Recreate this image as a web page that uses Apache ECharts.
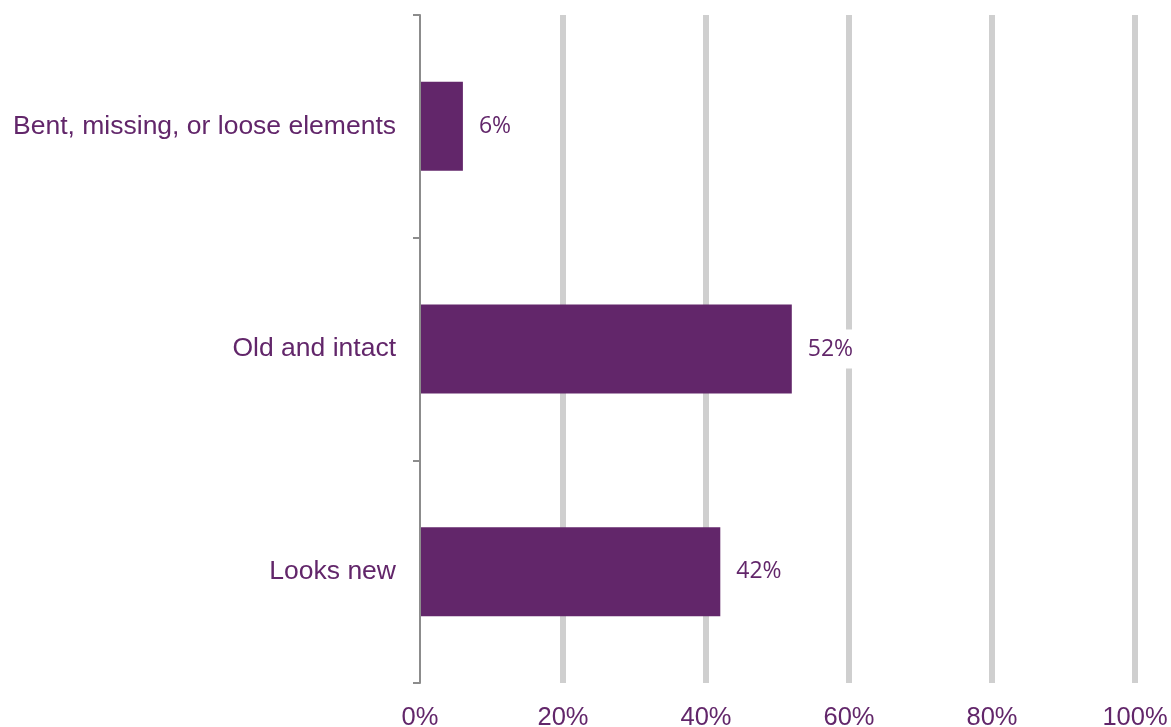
<!DOCTYPE html>
<html>
<head>
<meta charset="utf-8">
<style>
  html, body { margin: 0; padding: 0; background: #ffffff; }
  #chart { width: 1171px; height: 727px; }
</style>
<script src="https://cdn.jsdelivr.net/npm/echarts@6/dist/echarts.min.js"></script>
</head>
<body>
<div id="chart"></div>
<script>
// Condition categories, listed top to bottom
const categories = ['Bent, missing, or loose elements', 'Old and intact', 'Looks new'];
// Share of responses (%)
const shares = [6, 52, 42];
// Horizontal axis ticks (%)
const xTicks = [0, 20, 40, 60, 80, 100];

const purple = '#62266a';

const chart = echarts.init(document.getElementById('chart'));
chart.setOption({
  animation: false,
  backgroundColor: '#ffffff',
  grid: {
    left: 420, right: 36, top: 15, bottom: 44,
    containLabel: false,
    outerBoundsMode: 'none'
  },
  xAxis: {
    type: 'value',
    min: xTicks[0],
    max: xTicks[xTicks.length - 1],
    interval: xTicks[1] - xTicks[0],
    axisLine: { show: false },
    axisTick: { show: false },
    axisLabel: {
      color: purple,
      fontFamily: 'Liberation Sans, Arial, sans-serif',
      fontSize: 25.5,
      margin: 22,
      formatter: v => v + '%'
    },
    splitLine: {
      show: true,
      showMinLine: false,
      lineStyle: { color: '#cfcfcf', width: 6 }
    }
  },
  yAxis: {
    type: 'category',
    inverse: true,
    data: categories,
    axisLine: { show: true, lineStyle: { color: '#8c8c8c', width: 2 } },
    axisTick: { show: true, length: 7, lineStyle: { color: '#8c8c8c', width: 2 } },
    axisLabel: {
      color: purple,
      fontFamily: 'Liberation Sans, Arial, sans-serif',
      fontSize: 26.5,
      margin: 24
    },
    z: 5
  },
  series: [{
    type: 'bar',
    data: shares,
    barWidth: '40%',
    itemStyle: { color: purple },
    label: {
      show: true,
      position: 'right',
      distance: 10,
      formatter: p => p.value + '%',
      color: purple,
      fontFamily: 'Open Sans, sans-serif',
      fontSize: 23,
      backgroundColor: '#ffffff',
      padding: [8, 6, 8, 6]
    }
  }]
});
</script>
</body>
</html>
